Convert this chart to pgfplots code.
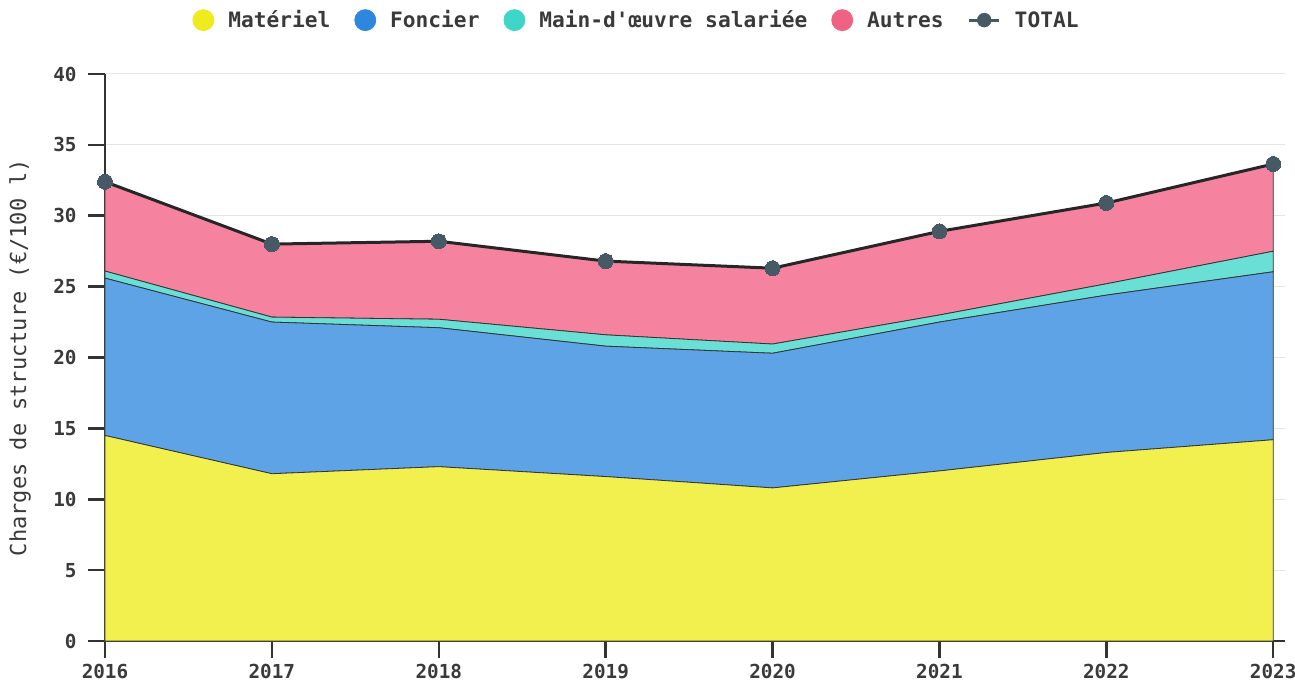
\documentclass[border=0pt]{standalone}
\usepackage{fontspec}
\setmainfont{DejaVu Sans Mono}[Ligatures=TeXOff]
\usepackage{pgfplots}
\pgfplotsset{compat=1.18}
\definecolor{cYel}{HTML}{F2F04E}
\definecolor{cBlu}{HTML}{5EA3E6}
\definecolor{cTeal}{HTML}{6ADFD5}
\definecolor{cPink}{HTML}{F5839F}
\definecolor{lYel}{HTML}{F0EB1E}
\definecolor{lBlu}{HTML}{2E86DE}
\definecolor{lTeal}{HTML}{3DD6C8}
\definecolor{lPink}{HTML}{F06283}
\definecolor{cMark}{HTML}{455A64}
\definecolor{cAxis}{HTML}{333333}
\definecolor{cText}{HTML}{3A3A3A}
\begin{document}
\begin{tikzpicture}
\pgfplotsset{base/.style={
  scale only axis, width=1180pt, height=567pt,
  xmin=2016, xmax=2023.07, ymin=0, ymax=40}}
\begin{axis}[base,
  axis x line*=bottom, axis y line*=left,
  xtick={2016,...,2023}, ytick={0,5,...,40},
  /pgf/number format/assume math mode=true,
  x tick label style={/pgf/number format/1000 sep={}, yshift=-3pt},
  y tick label style={xshift=-8pt},
  tick label style={font=\bfseries\fontsize{19.3}{22}\selectfont, text=cText},
  tick align=outside, major tick length=17pt,
  tick style={cAxis, line width=2.5pt},
  axis line style={cAxis, line width=2.8pt},
  ymajorgrids, grid style={black!10, line width=1pt},
  ylabel={Charges de structure (€/100 l)},
  every axis y label/.style={at={(rel axis cs:0,0.5)}, rotate=90, anchor=center, yshift=85pt,
     font=\fontsize{22}{24}\selectfont, text=cText},
  stack plots=y,
  legend columns=-1,
  legend style={draw=none, fill=none, at={(0.4496,1.095)}, anchor=center,
    font=\bfseries\fontsize{21.2}{24}\selectfont, text=cText,
    nodes={inner sep=0pt},
    /tikz/every odd column/.append style={column sep=14pt},
    /tikz/every even column/.append style={column sep=24pt}},
]
\addplot[draw=black!80, line width=0.8pt, fill=cYel,
  legend image code/.code={\fill[lYel] (0pt,0pt) circle (10.5pt);}]
  coordinates {(2016,14.5) (2017,11.8) (2018,12.3) (2019,11.6) (2020,10.8) (2021,12.0) (2022,13.3) (2023,14.2)} \closedcycle;
\addlegendentry{Matériel}
\addplot[draw=black!80, line width=0.8pt, fill=cBlu,
  legend image code/.code={\fill[lBlu] (0pt,0pt) circle (10.5pt);}]
  coordinates {(2016,11.1) (2017,10.7) (2018,9.8) (2019,9.2) (2020,9.5) (2021,10.5) (2022,11.1) (2023,11.85)} \closedcycle;
\addlegendentry{Foncier}
\addplot[draw=black!80, line width=0.8pt, fill=cTeal,
  legend image code/.code={\fill[lTeal] (0pt,0pt) circle (10.5pt);}]
  coordinates {(2016,0.5) (2017,0.35) (2018,0.6) (2019,0.8) (2020,0.65) (2021,0.5) (2022,0.8) (2023,1.45)} \closedcycle;
\addlegendentry{Main-d'œuvre salariée}
\addplot[draw=black!80, line width=0.8pt, fill=cPink,
  legend image code/.code={\fill[lPink] (0pt,0pt) circle (10.5pt);}]
  coordinates {(2016,6.3) (2017,5.15) (2018,5.5) (2019,5.2) (2020,5.35) (2021,5.9) (2022,5.7) (2023,6.15)} \closedcycle;
\addlegendentry{Autres}
\addlegendimage{legend image code/.code={
  \draw[cMark, line width=3pt] (-15pt,0pt) -- (15pt,0pt);
  \fill[cMark] (0pt,0pt) circle (7pt);}}
\addlegendentry{TOTAL}
\end{axis}
\begin{axis}[base, hide axis, clip=false]
\addplot[line width=3pt, color=black!85, mark=*, mark size=7.5pt,
  mark options={fill=cMark, draw=cMark, line width=0pt}]
  coordinates {(2016,32.4) (2017,28.0) (2018,28.2) (2019,26.8) (2020,26.3) (2021,28.9) (2022,30.9) (2023,33.65)};
\end{axis}
\pgfresetboundingbox
\path (current axis.south west) ++(-105pt,-40pt) rectangle ++(1295pt,681pt);
\end{tikzpicture}
\end{document}
